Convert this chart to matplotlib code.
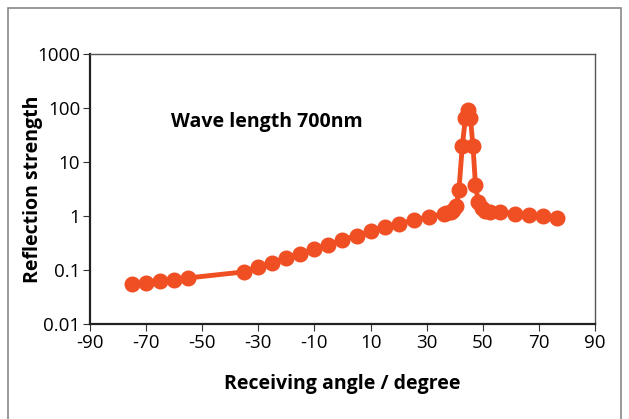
import matplotlib.pyplot as plt
from matplotlib.patches import Rectangle

# Reflection data, wave length 700nm
angle = [-75, -70, -65, -60, -55, -35, -30, -25, -20, -15, -10, -5, 0, 5, 10,
         15, 20, 25.5, 31, 36, 37, 38.5, 39.5, 40.5, 41.5, 42.7, 43.8, 44.8,
         45.6, 46.5, 47.4, 48.4, 49.8, 50.9, 52.5, 56, 61.5, 66.3, 71.5, 76.4]
strength = [0.055, 0.058, 0.062, 0.066, 0.071, 0.092, 0.115, 0.137, 0.168, 0.2,
            0.24, 0.29, 0.36, 0.43, 0.52, 0.62, 0.71, 0.84, 0.97, 1.1, 1.15,
            1.2, 1.3, 1.5, 3.0, 20, 65, 90, 65, 20, 3.7, 1.8, 1.4, 1.25,
            1.2, 1.2, 1.1, 1.05, 1.0, 0.9]

xticks = [-90, -70, -50, -30, -10, 10, 30, 50, 70, 90]
yticks = [0.01, 0.1, 1, 10, 100, 1000]
ylabels = ['0.01', '0.1', '1', '10', '100', '1000']

plt.rcParams['font.family'] = ['Open Sans', 'DejaVu Sans']
plt.rcParams['axes.unicode_minus'] = False

fig = plt.figure(figsize=(6.29, 4.19), dpi=100)
ax = fig.add_axes([0.143, 0.227, 0.803, 0.644])

# outer frame
fig.patches.append(Rectangle((8 / 629, -0.1), 613 / 629, 1.08,
                             transform=fig.transFigure, fill=False,
                             edgecolor='#888888', linewidth=1.2))

ax.plot(angle, strength, color='#F04E23', linewidth=3.5,
        marker='o', markersize=10.5)

ax.set_yscale('log')
ax.set_xlim(-90, 90)
ax.set_ylim(0.01, 1000)
ax.set_xticks(xticks)
ax.set_yticks(yticks)
ax.set_yticklabels(ylabels)
ax.minorticks_off()
ax.tick_params(labelsize=13.5, direction='out', length=5, color='#333333',
               pad=2)

for s in ['left', 'bottom']:
    ax.spines[s].set_color('#222222')
    ax.spines[s].set_linewidth(1.6)
for s in ['top', 'right']:
    ax.spines[s].set_color('#555555')
    ax.spines[s].set_linewidth(1.0)

ax.set_xlabel('Receiving angle / degree', fontsize=14, fontweight='bold', labelpad=16)
ax.set_ylabel('Reflection strength', fontsize=14, fontweight='bold')
ax.yaxis.set_label_coords(-0.093, 0.5)
ax.text(-61, 55, 'Wave length 700nm', fontsize=14, fontweight='bold',
        va='center', ha='left')

fig.savefig('out.png', dpi=100)
